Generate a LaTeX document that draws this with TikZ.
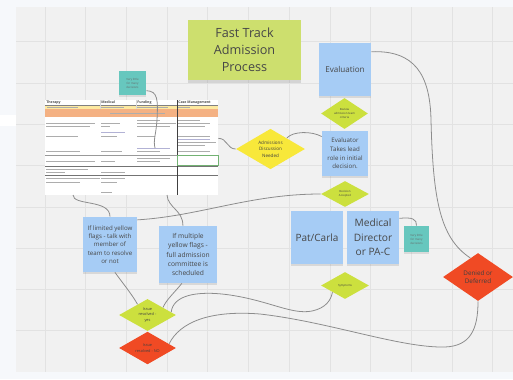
\documentclass[tikz,border=0pt]{standalone}
\usepackage{fontspec}
\setmainfont{Open Sans}
\usetikzlibrary{shapes.geometric,shadows}

\definecolor{stickyblue}{RGB}{166,204,245}
\definecolor{titlegreen}{RGB}{205,223,110}
\definecolor{limegreen}{RGB}{204,224,62}
\definecolor{flagyellow}{RGB}{248,232,58}
\definecolor{flagred}{RGB}{240,74,36}
\definecolor{noteteal}{RGB}{103,199,190}
\definecolor{boardbg}{RGB}{241,241,241}
\definecolor{gridline}{RGB}{226,226,226}
\definecolor{outerbg}{RGB}{246,248,251}
\definecolor{tblyellow}{RGB}{253,233,160}
\definecolor{tblorange}{RGB}{244,177,131}

\begin{document}
\begin{tikzpicture}[x=0.02cm,y=-0.02cm,
  sz/.style 2 args={minimum width=#1*0.02cm,minimum height=#2*0.02cm},
  sticky/.style={rectangle,fill=stickyblue,inner sep=0pt,align=center,text=black!72,
    drop shadow={shadow xshift=0pt,shadow yshift=-1.4pt,opacity=0.22}},
  note/.style={rectangle,fill=noteteal,inner sep=0pt,align=center,text=black!60,
    font=\fontsize{1.6}{2.3}\selectfont,
    drop shadow={shadow xshift=0pt,shadow yshift=-1pt,opacity=0.2}},
  diam/.style={diamond,inner sep=0pt,align=center,text=black!75},
  tiny/.style={font=\fontsize{1.6}{2.3}\selectfont},
  hdr/.style={anchor=west,inner sep=0pt,font=\fontsize{2}{2.4}\selectfont\bfseries,text=black!70},
  strip/.style={line width=0.55pt,black!32},
  bluestrip/.style={line width=0.55pt,blue!45!black!30},
  link/.style={draw=black!45,line width=0.45pt}]

  \useasboundingbox (0,0) rectangle (513,379);
  \fill[outerbg] (0,0) rectangle (513,379);
  \fill[boardbg] (16,7) rectangle (513,372);
  \fill[white] (0,115) rectangle (16,126);
  \foreach \gx in {45,85.7,...,495} \draw[gridline,line width=0.4pt] (\gx,7) -- (\gx,372);
  \foreach \gy in {41.7,83,...,335} \draw[gridline,line width=0.4pt] (16,\gy) -- (513,\gy);

  % the pasted spreadsheet
  \node[rectangle,fill=white,inner sep=0pt,sz={173}{95}] (tbl) at (131.5,147.5) {};
  \fill[tblyellow] (45,105.5) rectangle (218,109);
  \fill[tblorange] (45,109) rectangle (218,117);
  \foreach \hx/\hname [count=\i] in {46/Therapy,101/Medical,137/Funding,178/Case Management}
    \node[hdr] (hd\i) at (\hx,102.6) {\hname};
  \draw[black!50,line width=0.3pt] (45,105.5) -- (218,105.5);
  \draw[black!15,line width=0.3pt] (100,100) -- (100,109) (136,100) -- (136,109);
  \foreach \a/\b/\y in {47/78/107.3,101/124/107.3,137/168/107.3,178/190/107.3,
      110/165/113,
      137/160/120,178/200/120,46/95/123.7,101/120/123.7,137/176/123.7,178/210/123.7,
      46/90/126.5,101/110/126.5,137/170/126.5,178/205/126.5,
      46/78/136.7,101/117/136.7,137/155/136.7,178/210/136.7,
      178/216/142,178/205/145.3,
      46/80/151.7,101/122/151.7,137/160/151.7,178/210/151.7,
      137/170/158,46/95/161.5,101/115/161.5,137/160/161.5,
      46/88/169,46/65/172.5,101/125/172.5,
      46/100/178.5,101/125/178.5,46/80/182,101/117/182,101/112/192}
    \draw[strip] (\a,\y) -- (\b,\y);
  \foreach \a/\b/\y in {101/125/132.7,178/210/139,137/170/148.3}
    \draw[bluestrip] (\a,\y) -- (\b,\y);
  \draw[black!40,line width=0.35pt] (45,155) -- (177,155);
  \draw[black!55,line width=0.35pt] (45,166) -- (218,166) (45,175) -- (218,175);
  \draw[black!75,line width=0.5pt] (177,100) -- (177,195);
  \draw[green!45!black!55,line width=0.4pt] (177,155) rectangle (218,165);
  \coordinate (tblpin) at (155,148);
  \coordinate (tblA) at (73,195);
  \coordinate (tblB) at (167,195);

  % stickies
  \node[rectangle,fill=titlegreen,inner sep=0pt,align=center,text=black!72,sz={113}{60},
    font=\fontsize{7.2}{9.6}\selectfont,
    drop shadow={shadow xshift=0pt,shadow yshift=-1.6pt,opacity=0.25}]
    (title) at (244.5,50) {Fast Track\\Admission\\Process};
  \node[note,sz={27}{24}] (tealA) at (132.5,83) {Very little\\for many\\decisions};
  \node[sticky,sz={52}{53},font=\fontsize{4.6}{6}\selectfont] (eval) at (345,69.5) {Evaluation};
  \node[sticky,sz={46}{45},font=\fontsize{3.5}{4.9}\selectfont] (evaluator) at (345,153.5)
    {Evaluator\\Takes lead\\role in initial\\decision.};
  \node[sticky,sz={52}{53},font=\fontsize{5.7}{8.2}\selectfont] (patcarla) at (317,237.5) {Pat/Carla};
  \node[sticky,sz={52}{53},font=\fontsize{5.8}{8.2}\selectfont] (meddir) at (373,237.5)
    {Medical\\Director\\or PA-C};
  \node[note,sz={25}{26}] (tealB) at (416.5,239) {Very little\\for many\\decisions};
  \node[sticky,sz={54}{55},font=\fontsize{3.5}{4.7}\selectfont] (limited) at (110,244.5)
    {If limited yellow\\flags - talk with\\member of\\team to resolve\\or not};
  \node[sticky,sz={58}{57},font=\fontsize{3.8}{5.3}\selectfont] (multiple) at (188,254.5)
    {If multiple\\yellow flags -\\full admission\\committee is\\scheduled};

  % decision diamonds
  \node[diam,fill=limegreen,sz={47}{29},tiny] (review) at (344.5,113.5) {Review\\admission team\\criteria};
  \node[diam,fill=flagyellow,sz={69}{40},font=\fontsize{2.6}{3.6}\selectfont] (admit) at (270.5,149)
    {Admissions\\Discussion\\Needed};
  \node[diam,fill=limegreen,sz={48}{26},tiny] (accepted) at (345,194) {Decision\\Accepted};
  \node[diam,fill=limegreen,sz={48}{27},tiny] (symptoms) at (345,285.5) {Symptoms};
  \node[diam,fill=flagred,sz={70}{48},font=\fontsize{3.6}{4.9}\selectfont] (denied) at (478,277)
    {Denied or\\Deferred};
  \node[diam,fill=limegreen,sz={57}{30},font=\fontsize{2.2}{3.1}\selectfont] (yes) at (147.5,315)
    {Issue\\resolved -\\yes};
  \node[diam,fill=flagred,sz={57}{32},font=\fontsize{2.2}{3.1}\selectfont] (no) at (147.5,348)
    {Issue\\resolved - NO};

  % connectors
  \draw[link] (eval.34) .. controls (415,50) and (430,75) .. (431,120)
    .. controls (433,200) and (440,238) .. (denied.112); % eval -- denied
  \draw[link] (tealA.-29) .. controls (158,91) and (158,100) .. (157,120)
    .. controls (156,135) and (153,140) .. (tblpin); % note -- table
  \draw[link] (tblA) .. controls (73,206) and (110,199) .. (limited.north); % table -- limited
  \draw[link] (tblB) .. controls (168,208) and (183,210) .. (multiple.100); % table -- multiple
  \draw[link] (tbl.6) .. controls (227,138) and (227,149) .. (admit.west); % table -- admit
  \draw[link] (admit.34) .. controls (293,131) and (312,131) .. (evaluator.144); % admit -- evaluator
  \draw[link] (limited.42) .. controls (200,216) and (250,194) .. (accepted.west); % limited -- accepted
  \draw[link] (limited.-80) .. controls (125,286) and (133,296) .. (yes.133); % limited -- yes
  \draw[link] (multiple.-102) .. controls (175,292) and (166,300) .. (yes.26); % multiple -- yes
  \draw[link] (yes.7) .. controls (173,296) and (195,290) .. (230,295)
    .. controls (270,301) and (292,315) .. (312,311)
    .. controls (326,308) and (331,300) .. (symptoms.-152); % yes -- symptoms
  \draw[link] (no.11) .. controls (180,322) and (210,310) .. (260,314)
    .. controls (330,322) and (400,348) .. (445,347)
    .. controls (470,346) and (478,330) .. (denied.south); % no -- denied
  \draw[link] (meddir.36) .. controls (412,217) and (417,219) .. (tealB.north); % meddir -- note
\end{tikzpicture}
\end{document}
